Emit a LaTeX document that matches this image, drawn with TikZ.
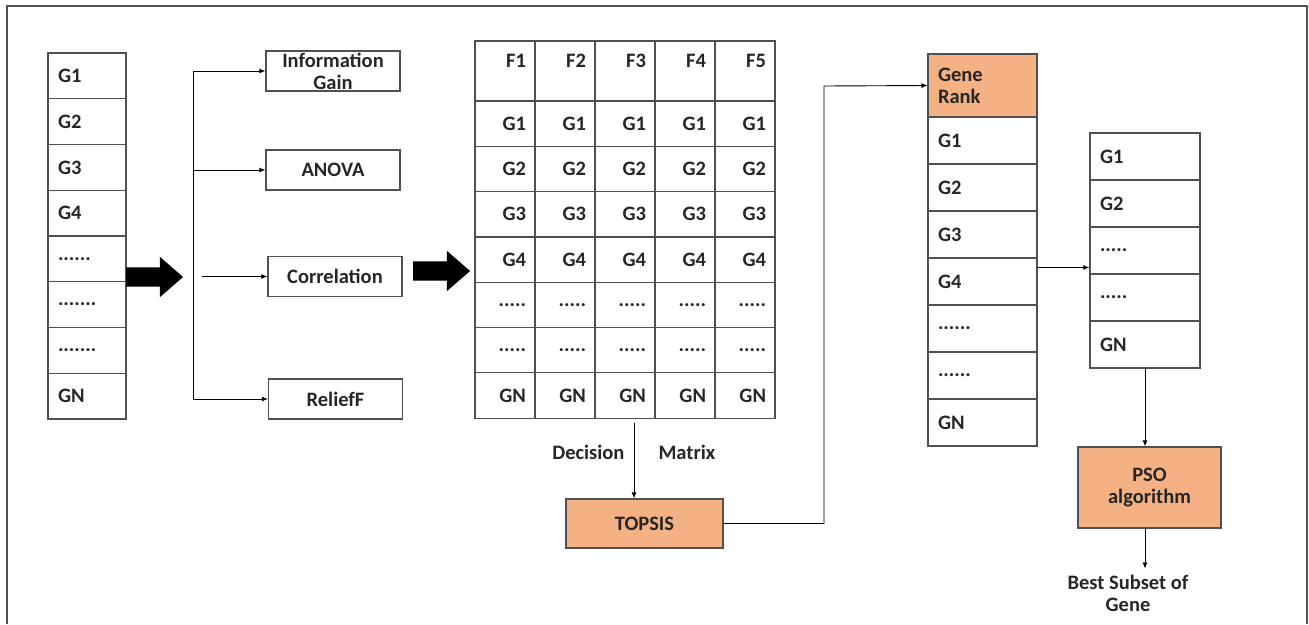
\documentclass[tikz,border=0pt]{standalone}
\usepackage{fontspec}
\setmainfont{Carlito}
\usepackage{tikz}
\usetikzlibrary{arrows.meta, shapes.arrows}

\definecolor{rankorange}{RGB}{244,177,131}
\definecolor{boxline}{RGB}{80,80,80}
\newcommand{\rowdots}[1]{\foreach \k in {1,...,#1}{.}}

\tikzset{
  every node/.style={font=\fontsize{20.5}{22}\selectfont\bfseries, text=black!85},
  gcell/.style={draw=boxline, line width=1.2pt, inner xsep=10pt, inner ysep=0pt, align=left},
  mcell/.style={draw=boxline, line width=1.2pt, inner xsep=9pt, inner ysep=0pt, align=right,
                text width=42pt, minimum height=45.3pt},
  method/.style={draw=boxline, line width=1.2pt, minimum width=134pt, minimum height=40pt,
                 inner ysep=0pt, align=center},
  stepbox/.style={draw=boxline, line width=1.2pt, fill=rankorange, align=center},
  bigarrow/.style={single arrow, fill=black, draw=none, inner xsep=0pt, inner ysep=9.5pt,
                   single arrow head extend=10.5pt, single arrow tip angle=82},
  arr/.style={-{Latex[length=6pt,width=5pt]}, line width=0.9pt}
}

\begin{document}
\begin{tikzpicture}[x=1pt, y=-1pt]
  \useasboundingbox (0,0) rectangle (1309,624);

  % Frame
  \draw[boxline, line width=1.2pt] (7,624) -- (7,6) -- (1307,6) -- (1307,624);

  % Gene list
  \foreach \t [count=\i] in {G1,G2,G3,G4,\rowdots6,\rowdots7,\rowdots7,GN}
      \node[gcell, text width=58pt, minimum height=45.75pt] (in-\i) at (87,30.1+45.75*\i) {\t};

  \node[bigarrow, minimum height=57pt] (big-1) at (149,277) {};

  % Filter methods
  \node[method] (ig) at (333,71) {Information\\Gain};
  \node[method] (an) at (333,170) {ANOVA};
  \node[method] (co) at (335,276.5) {Correlation};
  \node[method] (rf) at (335.5,399) {ReliefF};

  \coordinate (br) at (193,0);
  \draw[line width=0.9pt] (ig.west -| br) -- (rf.west -| br);
  \foreach \b in {ig,an,rf}
      \draw[arr] (\b.west -| br) -- (\b.west);
  \draw[arr] ([xshift=9pt]co.west -| br) -- (co.west);

  \node[bigarrow, minimum height=57pt] (big-2) at (436,271) {};

  % Decision matrix
  \foreach \c in {1,...,5}
      \node[mcell, minimum height=60pt, text height=26pt, text depth=34pt] (dm-0-\c) at (445+60*\c,71) {F\c};
  \foreach \t [count=\r] in {G1,G2,G3,G4,\rowdots5,\rowdots5,GN}
      \foreach \c in {1,...,5}
          \node[mcell] (dm-\r-\c) at (445+60*\c,78.35+45.3*\r) {\t};

  % TOPSIS
  \node[stepbox, minimum width=157pt, minimum height=49pt] (tp) at (644.5,523.5) {TOPSIS};
  \draw[arr] ([xshift=9pt,yshift=-4pt]dm-7-3.south) -- ([xshift=9pt]dm-7-3.south |- tp.north);
  \node[anchor=east] (lbl-dec) at (628,452) {Decision};
  \node[anchor=west] (lbl-mat) at (655,452) {Matrix};

  % Gene rank
  \node[gcell, fill=rankorange, text width=89pt, minimum height=63pt] (gr-0) at (982.5,85.5) {Gene\\Rank};
  \foreach \t [count=\i] in {G1,G2,G3,G4,\rowdots6,\rowdots6,GN}
      \node[gcell, text width=89pt, minimum height=47pt] (gr-\i) at (982.5,93.5+47*\i) {\t};

  \coordinate (turn) at (824,86);
  \draw[arr] (tp.east) -- (tp.east -| turn) -- (turn) -- (gr-0.west);

  % Selected subset
  \foreach \t [count=\i] in {G1,G2,\rowdots5,\rowdots5,GN}
      \node[gcell, text width=90pt, minimum height=47pt] (sub-\i) at (1145,109.5+47*\i) {\t};
  \draw[arr] ([yshift=14pt]gr-4.east) -- ([yshift=14pt]gr-4.east -| sub-3.west);

  % PSO
  \node[stepbox, minimum width=143pt, minimum height=81pt] (pso) at (1149.5,487.5) {PSO\\algorithm};
  \draw[arr] (sub-5.south) -- (sub-5.south |- pso.north);
  \node[align=center, inner sep=2pt] (best) at (1128,593) {Best Subset of\\Gene};
  \draw[arr] (sub-5.south |- pso.south) -- ([yshift=4pt]sub-5.south |- best.north);
\end{tikzpicture}
\end{document}
